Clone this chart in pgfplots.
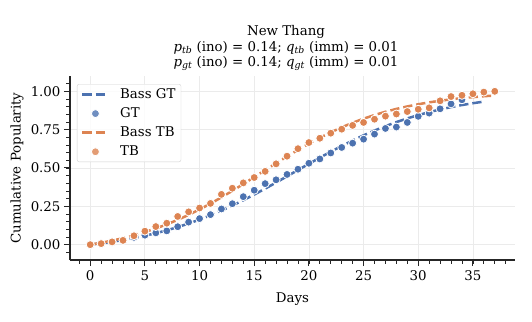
\documentclass[border=0pt]{standalone}
\usepackage{fontspec}
\setmainfont{DejaVu Serif}
\usepackage{pgfplots}
\pgfplotsset{compat=1.18}
\definecolor{gtblue}{RGB}{76,114,176}
\definecolor{tborange}{RGB}{221,132,82}
\definecolor{gridgray}{RGB}{235,235,235}
\definecolor{spine}{RGB}{38,38,38}
\newcommand{\sym}[2]{\textit{#1}\textsubscript{\textit{#2}}}
\pgfplotsset{
  lineleg/.style={legend image code/.code={\draw[##1] (0bp,0bp) -- (26bp,0bp);}},
  dotleg/.style={legend image code/.code={\draw[mark repeat=2,mark phase=2,##1] plot coordinates {(0bp,0bp) (13bp,0bp) (26bp,0bp)};}},
}

\begin{document}
\begin{tikzpicture}[font=\fontsize{13.4}{16}\selectfont]
\useasboundingbox (-70bp,-62bp) rectangle (462bp,260bp);
\begin{axis}[
  at={(0,0)}, anchor=south west,
  scale only axis, width=445bp, height=184bp,
  xmin=-1.85, xmax=38.85, ymin=-0.1, ymax=1.1,
  axis x line*=bottom, axis y line*=left,
  axis line style={-, spine, line width=1.1bp},
  xtick={0,5,...,35}, ytick={0,0.25,0.5,0.75,1},
  minor xtick={-1,0,...,38},
  minor ytick={-0.05,0,0.05,0.1,0.15,0.2,0.25,0.3,0.35,0.4,0.45,0.5,0.55,0.6,0.65,0.7,0.75,0.8,0.85,0.9,0.95,1,1.05},
  tick align=outside, major tick length=6bp, minor tick length=3.5bp,
  major tick style={spine, line width=1bp}, minor tick style={spine, line width=0.8bp},
  grid=major, grid style={gridgray, line width=0.8bp},
  /pgf/number format/assume math mode=true,
  xticklabel style={yshift=-1.5bp},
  yticklabel style={/pgf/number format/.cd, fixed, fixed zerofill, precision=2},
  xlabel={Days}, ylabel={Cumulative Popularity},
  xlabel style={at={(axis description cs:0.5,-0.21)}, anchor=center},
  ylabel style={at={(axis description cs:-0.119,0.5)}, anchor=center},
  title={New Thang\\ \sym{p}{tb} (ino) = 0.14; \sym{q}{tb} (imm) = 0.01\\ \sym{p}{gt} (ino) = 0.14; \sym{q}{gt} (imm) = 0.01},
  title style={at={(0.4854,1)}, anchor=south, yshift=-4.5bp, align=center, font=\fontsize{13.4}{15.8}\selectfont},
  legend style={at={(0.0157,0.9565)}, anchor=north west, draw=gray!35, rounded corners=2bp,
    fill=white, fill opacity=0.8, text opacity=1, inner xsep=4bp, inner ysep=3bp,
    row sep=4.8bp, column sep=9bp,
    nodes={inner sep=1.5bp}},
  legend cell align=left,
]
\addplot[gtblue, line width=2.5bp, dash pattern=on 9.25bp off 4bp, lineleg] coordinates {
  (0,0) (1,0.0088) (2,0.0188) (3,0.0302) (4,0.0433) (5,0.0580) (6,0.0747) (7,0.0935)
  (8,0.1145) (9,0.1377) (10,0.1634) (11,0.1915) (12,0.2221) (13,0.2549) (14,0.2899)
  (15,0.3269) (16,0.3654) (17,0.4052) (18,0.4458) (19,0.4867) (20,0.5273) (21,0.5674)
  (22,0.6064) (23,0.6438) (24,0.6794) (25,0.7130) (26,0.7442) (27,0.7730) (28,0.7995)
  (29,0.8234) (30,0.8450) (31,0.8644) (32,0.8817) (33,0.8971) (34,0.9106) (35,0.9225)
  (36,0.9329)};
\addlegendentry{Bass GT}
\addplot[only marks, mark=*, mark size=4bp, mark options={fill=gtblue, draw=white, line width=0.8bp}, dotleg] coordinates {
  (0,0) (1,0.006) (2,0.016) (3,0.026) (4,0.048) (5,0.062) (6,0.077) (7,0.090)
  (8,0.117) (9,0.147) (10,0.170) (11,0.196) (12,0.233) (13,0.267) (14,0.313)
  (15,0.355) (16,0.398) (17,0.423) (18,0.458) (19,0.492) (20,0.531) (21,0.559)
  (22,0.598) (23,0.634) (24,0.662) (25,0.688) (26,0.721) (27,0.758) (28,0.767)
  (29,0.797) (30,0.837) (31,0.858) (32,0.886) (33,0.918) (34,0.945)};
\addlegendentry{GT}
\addplot[tborange, line width=2.5bp, dash pattern=on 9.25bp off 4bp, lineleg] coordinates {
  (0,0) (1,0.0122) (2,0.0263) (3,0.0425) (4,0.0610) (5,0.0820) (6,0.1057) (7,0.1323)
  (8,0.1618) (9,0.1944) (10,0.2297) (11,0.2679) (12,0.3085) (13,0.3511) (14,0.3952)
  (15,0.4404) (16,0.4858) (17,0.5310) (18,0.5753) (19,0.6179) (20,0.6586) (21,0.6967)
  (22,0.7322) (23,0.7656) (24,0.7950) (25,0.8217) (26,0.8456) (27,0.8667) (28,0.8853)
  (29,0.9016) (30,0.9157) (31,0.9281) (32,0.9386) (33,0.9478) (34,0.9556) (35,0.9622)
  (36,0.9680) (37,0.9728)};
\addlegendentry{Bass TB}
\addplot[only marks, mark=*, mark size=4bp, mark options={fill=tborange, draw=white, line width=0.8bp}, dotleg] coordinates {
  (0,0) (1,0.007) (2,0.018) (3,0.028) (4,0.058) (5,0.088) (6,0.118) (7,0.140)
  (8,0.184) (9,0.214) (10,0.239) (11,0.269) (12,0.328) (13,0.368) (14,0.403)
  (15,0.438) (16,0.478) (17,0.527) (18,0.577) (19,0.626) (20,0.666) (21,0.694)
  (22,0.727) (23,0.753) (24,0.778) (25,0.797) (26,0.818) (27,0.838) (28,0.852)
  (29,0.868) (30,0.883) (31,0.892) (32,0.938) (33,0.966) (34,0.974) (35,0.984)
  (36,0.995) (37,1.0)};
\addlegendentry{TB}
\end{axis}
\end{tikzpicture}
\end{document}
